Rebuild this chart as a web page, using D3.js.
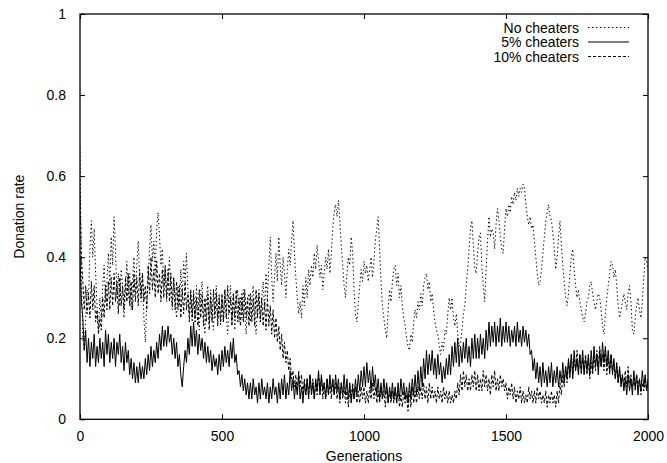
<!DOCTYPE html>
<html>
<head>
<meta charset="utf-8">
<script src="https://cdn.jsdelivr.net/npm/d3@7"></script>
<style>
  html, body { margin: 0; padding: 0; background: #fff; }
  svg { display: block; }
  text { font-family: "Liberation Sans", Arial, Helvetica, sans-serif; font-size: 14px; fill: #000; }
</style>
</head>
<body>
<svg id="chart" width="667" height="463"></svg>
<script>
const generationStep = 5;
const xTickValues = [0, 500, 1000, 1500, 2000];
const xTickLabels = ["0", "500", "1000", "1500", "2000"];
const yTickValues = [0, 0.2, 0.4, 0.6, 0.8, 1];
const yTickLabels = ["0", "0.2", "0.4", "0.6", "0.8", "1"];
const seriesNames = ["No cheaters", "5% cheaters", "10% cheaters"];

const noCheaters = [
0.67,0.35,0.20,0.17,0.25,0.32,0.30,0.42,0.49,0.40,0.47,0.36,0.28,0.22,0.30,0.25,0.33,0.38,0.29,0.34,
0.41,0.33,0.45,0.38,0.50,0.42,0.30,0.36,0.28,0.37,0.33,0.25,0.32,0.39,0.30,0.36,0.27,0.34,0.40,0.31,
0.38,0.44,0.35,0.29,0.36,0.25,0.19,0.28,0.34,0.42,0.48,0.39,0.44,0.36,0.47,0.51,0.45,0.38,0.42,0.33,
0.37,0.29,0.34,0.40,0.31,0.27,0.35,0.29,0.25,0.33,0.28,0.37,0.30,0.39,0.34,0.41,0.32,0.26,0.31,0.24,
0.32,0.25,0.33,0.27,0.22,0.31,0.34,0.25,0.21,0.30,0.33,0.24,0.32,0.26,0.22,0.30,0.33,0.25,0.31,0.23,
0.30,0.24,0.32,0.26,0.21,0.29,0.33,0.24,0.31,0.22,0.29,0.32,0.24,0.30,0.25,0.32,0.26,0.21,0.29,0.31,
0.24,0.30,0.33,0.25,0.21,0.28,0.32,0.24,0.30,0.34,0.27,0.36,0.30,0.38,0.45,0.35,0.29,0.35,0.41,0.34,
0.45,0.38,0.33,0.40,0.36,0.30,0.37,0.42,0.38,0.44,0.49,0.41,0.35,0.30,0.26,0.29,0.25,0.33,0.28,0.35,
0.30,0.37,0.33,0.38,0.35,0.41,0.37,0.43,0.39,0.35,0.38,0.32,0.36,0.40,0.37,0.42,0.36,0.41,0.47,0.51,
0.53,0.50,0.54,0.49,0.43,0.38,0.33,0.30,0.36,0.40,0.38,0.45,0.41,0.32,0.26,0.24,0.29,0.33,0.37,0.34,
0.39,0.36,0.38,0.34,0.37,0.40,0.35,0.39,0.44,0.47,0.50,0.42,0.34,0.28,0.25,0.22,0.20,0.27,0.32,0.29,
0.34,0.37,0.38,0.33,0.36,0.30,0.33,0.28,0.25,0.23,0.20,0.18,0.17,0.21,0.19,0.24,0.27,0.25,0.29,0.27,
0.31,0.28,0.33,0.35,0.36,0.32,0.34,0.29,0.31,0.27,0.24,0.22,0.21,0.18,0.16,0.19,0.17,0.22,0.21,0.26,
0.30,0.27,0.30,0.25,0.23,0.26,0.21,0.18,0.19,0.22,0.26,0.28,0.33,0.37,0.42,0.47,0.49,0.43,0.37,0.36,
0.41,0.45,0.46,0.38,0.33,0.29,0.37,0.44,0.50,0.45,0.47,0.46,0.42,0.48,0.52,0.49,0.45,0.42,0.41,0.47,
0.52,0.50,0.53,0.51,0.55,0.53,0.56,0.54,0.57,0.55,0.57,0.56,0.58,0.57,0.53,0.50,0.48,0.50,0.47,0.48,
0.44,0.40,0.36,0.33,0.34,0.37,0.41,0.45,0.49,0.51,0.53,0.50,0.49,0.46,0.42,0.37,0.40,0.45,0.49,0.43,
0.38,0.34,0.30,0.28,0.31,0.36,0.40,0.42,0.37,0.33,0.30,0.32,0.29,0.27,0.25,0.24,0.26,0.29,0.30,0.33,
0.34,0.31,0.29,0.27,0.29,0.31,0.30,0.27,0.23,0.21,0.26,0.30,0.33,0.36,0.39,0.38,0.35,0.37,0.33,0.28,
0.25,0.27,0.29,0.31,0.29,0.27,0.31,0.33,0.29,0.22,0.21,0.25,0.28,0.30,0.27,0.25,0.29,0.35,0.40,0.39,
0.37
];

const fivePercent = [
0.40,0.29,0.25,0.17,0.22,0.14,0.20,0.13,0.19,0.15,0.21,0.13,0.18,0.14,0.20,0.15,0.19,0.13,0.22,0.16,
0.21,0.14,0.19,0.15,0.20,0.13,0.19,0.16,0.21,0.14,0.18,0.12,0.19,0.14,0.17,0.11,0.15,0.10,0.14,0.09,
0.13,0.09,0.14,0.10,0.13,0.10,0.15,0.11,0.16,0.12,0.18,0.13,0.17,0.14,0.19,0.15,0.21,0.17,0.23,0.18,
0.22,0.18,0.23,0.19,0.21,0.16,0.20,0.15,0.19,0.13,0.16,0.11,0.08,0.13,0.17,0.14,0.20,0.16,0.23,0.18,
0.24,0.18,0.22,0.16,0.21,0.17,0.20,0.15,0.19,0.14,0.18,0.14,0.17,0.12,0.16,0.13,0.15,0.11,0.16,0.12,
0.17,0.13,0.18,0.14,0.17,0.13,0.19,0.15,0.20,0.14,0.16,0.11,0.12,0.08,0.11,0.07,0.10,0.06,0.09,0.05,
0.09,0.05,0.10,0.06,0.08,0.04,0.09,0.05,0.10,0.06,0.08,0.05,0.09,0.04,0.08,0.05,0.10,0.06,0.08,0.04,
0.09,0.05,0.10,0.06,0.11,0.05,0.09,0.06,0.12,0.07,0.10,0.05,0.09,0.06,0.11,0.05,0.08,0.04,0.09,0.06,
0.10,0.05,0.11,0.06,0.09,0.05,0.10,0.07,0.12,0.06,0.11,0.07,0.09,0.05,0.10,0.06,0.11,0.07,0.10,0.06,
0.11,0.07,0.10,0.05,0.09,0.06,0.11,0.06,0.10,0.05,0.09,0.04,0.08,0.05,0.10,0.06,0.11,0.07,0.12,0.08,
0.13,0.08,0.14,0.09,0.12,0.07,0.13,0.08,0.11,0.06,0.10,0.05,0.09,0.05,0.10,0.06,0.09,0.04,0.08,0.05,
0.09,0.05,0.08,0.04,0.09,0.05,0.10,0.06,0.09,0.05,0.08,0.04,0.09,0.05,0.10,0.06,0.11,0.06,0.12,0.07,
0.13,0.08,0.15,0.10,0.17,0.11,0.16,0.12,0.17,0.11,0.15,0.10,0.16,0.11,0.14,0.09,0.13,0.10,0.15,0.11,
0.16,0.11,0.18,0.13,0.19,0.14,0.20,0.13,0.18,0.14,0.19,0.15,0.20,0.14,0.18,0.13,0.20,0.15,0.21,0.15,
0.20,0.15,0.21,0.16,0.20,0.15,0.22,0.17,0.24,0.18,0.23,0.19,0.24,0.18,0.23,0.19,0.25,0.18,0.23,0.19,
0.24,0.19,0.23,0.18,0.22,0.19,0.23,0.18,0.24,0.19,0.22,0.18,0.23,0.19,0.22,0.18,0.21,0.16,0.17,0.12,
0.15,0.10,0.14,0.09,0.13,0.08,0.14,0.09,0.12,0.08,0.13,0.09,0.14,0.08,0.12,0.09,0.13,0.08,0.12,0.09,
0.14,0.09,0.13,0.10,0.15,0.11,0.16,0.10,0.17,0.12,0.15,0.11,0.16,0.12,0.17,0.11,0.15,0.12,0.16,0.11,
0.17,0.12,0.18,0.13,0.16,0.11,0.17,0.13,0.19,0.14,0.18,0.13,0.17,0.12,0.16,0.11,0.15,0.10,0.14,0.09,
0.13,0.08,0.11,0.07,0.10,0.06,0.11,0.07,0.10,0.06,0.12,0.08,0.11,0.06,0.10,0.07,0.12,0.08,0.11,0.07,
0.10
];

const tenPercent = [
0.55,0.40,0.34,0.27,0.33,0.26,0.31,0.25,0.34,0.27,0.33,0.24,0.27,0.21,0.25,0.22,0.30,0.25,0.33,0.27,
0.34,0.27,0.35,0.28,0.36,0.29,0.34,0.26,0.35,0.28,0.33,0.27,0.35,0.29,0.36,0.28,0.34,0.27,0.36,0.29,
0.35,0.28,0.37,0.30,0.36,0.29,0.33,0.27,0.38,0.31,0.40,0.32,0.37,0.30,0.39,0.31,0.36,0.29,0.37,0.30,
0.38,0.30,0.37,0.29,0.36,0.28,0.35,0.27,0.34,0.27,0.33,0.25,0.32,0.26,0.34,0.27,0.31,0.24,0.32,0.25,
0.31,0.24,0.30,0.23,0.32,0.25,0.31,0.23,0.30,0.24,0.31,0.22,0.30,0.24,0.32,0.25,0.31,0.23,0.30,0.24,
0.31,0.24,0.32,0.25,0.33,0.26,0.30,0.23,0.31,0.25,0.32,0.24,0.30,0.23,0.31,0.24,0.32,0.25,0.30,0.23,
0.31,0.24,0.30,0.23,0.32,0.25,0.31,0.24,0.30,0.23,0.29,0.22,0.30,0.23,0.28,0.21,0.27,0.20,0.25,0.19,
0.23,0.17,0.21,0.15,0.19,0.14,0.17,0.12,0.15,0.10,0.12,0.08,0.11,0.07,0.12,0.08,0.11,0.06,0.10,0.06,
0.10,0.06,0.11,0.07,0.10,0.05,0.09,0.06,0.11,0.07,0.10,0.05,0.09,0.05,0.10,0.06,0.09,0.05,0.10,0.06,
0.09,0.05,0.08,0.04,0.09,0.05,0.08,0.04,0.07,0.03,0.08,0.05,0.09,0.05,0.08,0.04,0.07,0.04,0.08,0.05,
0.08,0.04,0.07,0.04,0.08,0.05,0.09,0.05,0.08,0.04,0.07,0.04,0.08,0.05,0.07,0.03,0.08,0.04,0.07,0.04,
0.07,0.04,0.08,0.04,0.07,0.03,0.06,0.03,0.07,0.04,0.06,0.02,0.07,0.03,0.08,0.04,0.07,0.04,0.08,0.05,
0.08,0.05,0.09,0.05,0.08,0.04,0.09,0.05,0.08,0.05,0.07,0.04,0.08,0.05,0.07,0.04,0.08,0.05,0.07,0.04,
0.07,0.04,0.06,0.04,0.07,0.05,0.09,0.06,0.11,0.07,0.12,0.08,0.11,0.07,0.10,0.07,0.11,0.08,0.12,0.07,
0.11,0.07,0.10,0.07,0.12,0.08,0.11,0.07,0.10,0.06,0.11,0.08,0.12,0.07,0.10,0.07,0.11,0.08,0.10,0.07,
0.09,0.05,0.08,0.06,0.09,0.05,0.08,0.04,0.07,0.05,0.08,0.04,0.07,0.04,0.06,0.04,0.08,0.05,0.07,0.04,
0.07,0.04,0.08,0.05,0.07,0.04,0.06,0.04,0.07,0.03,0.06,0.04,0.07,0.04,0.06,0.03,0.07,0.04,0.09,0.06,
0.11,0.08,0.13,0.09,0.14,0.10,0.16,0.11,0.15,0.12,0.17,0.12,0.16,0.11,0.15,0.12,0.16,0.11,0.15,0.10,
0.14,0.11,0.16,0.12,0.17,0.13,0.18,0.13,0.16,0.12,0.17,0.11,0.15,0.11,0.16,0.12,0.14,0.10,0.13,0.09,
0.12,0.09,0.11,0.08,0.12,0.08,0.13,0.09,0.11,0.08,0.10,0.07,0.11,0.08,0.10,0.06,0.09,0.07,0.10,0.07,
0.09
];

// ---------- layout ----------
const svg = d3.select("#chart");
const margin = { left: 80, right: 19, top: 14, bottom: 43.7 };
const W = 667, H = 463;
const x = d3.scaleLinear().domain([0, 2000]).range([margin.left, W - margin.right]);
const y = d3.scaleLinear().domain([0, 1]).range([H - margin.bottom, margin.top]);

const series = [
  { name: seriesNames[0], values: noCheaters, dash: "1.4,2.6" },
  { name: seriesNames[1], values: fivePercent, dash: null },
  { name: seriesNames[2], values: tenPercent, dash: "3,2" }
];

const line = d3.line()
  .x((d, i) => x(i * generationStep))
  .y(d => y(d));

const plot = svg.append("g");
plot.append("defs").append("clipPath").attr("id", "clip")
  .append("rect")
  .attr("x", x(0)).attr("y", y(1))
  .attr("width", x(2000) - x(0)).attr("height", y(0) - y(1));

const lines = plot.append("g").attr("clip-path", "url(#clip)");
series.forEach(s => {
  lines.append("path")
    .attr("d", line(s.values))
    .attr("fill", "none")
    .attr("stroke", "#000")
    .attr("stroke-width", 1)
    .attr("stroke-dasharray", s.dash);
});

// ---------- axes (gnuplot style: inward ticks mirrored on all sides) ----------
const tickLen = 5;
const axBottom = d3.axisBottom(x).tickValues(xTickValues).tickSize(-tickLen).tickPadding(12)
  .tickFormat((d, i) => xTickLabels[i]);
const axTop = d3.axisTop(x).tickValues(xTickValues).tickSize(-tickLen).tickFormat("");
const axLeft = d3.axisLeft(y).tickValues(yTickValues).tickSize(-tickLen).tickPadding(14)
  .tickFormat((d, i) => yTickLabels[i]);
const axRight = d3.axisRight(y).tickValues(yTickValues).tickSize(-tickLen).tickFormat("");

function styleAxis(g) {
  g.select(".domain").remove();
  g.selectAll(".tick line").attr("stroke", "#000").attr("stroke-width", 1);
  g.selectAll(".tick text").attr("fill", "#000").attr("font-size", 14)
    .attr("font-family", "Liberation Sans, Arial, sans-serif");
}
svg.append("g").attr("transform", `translate(0,${y(0)})`).call(axBottom).call(styleAxis);
svg.append("g").attr("transform", `translate(0,${y(1)})`).call(axTop).call(styleAxis);
svg.append("g").attr("transform", `translate(${x(0)},0)`).call(axLeft).call(styleAxis);
svg.append("g").attr("transform", `translate(${x(2000)},0)`).call(axRight).call(styleAxis);

// border box
svg.append("rect")
  .attr("x", x(0)).attr("y", y(1))
  .attr("width", x(2000) - x(0)).attr("height", y(0) - y(1))
  .attr("fill", "none").attr("stroke", "#000").attr("stroke-width", 1.3);

// ---------- axis titles ----------
svg.append("text")
  .attr("x", (x(0) + x(2000)) / 2).attr("y", 461)
  .attr("text-anchor", "middle")
  .text("Generations");
svg.append("text")
  .attr("transform", `translate(24,${(y(0) + y(1)) / 2}) rotate(-90)`)
  .attr("text-anchor", "middle")
  .text("Donation rate");

// ---------- legend ----------
const legend = svg.append("g");
series.forEach((s, i) => {
  const ly = 27.5 + i * 14.5;
  legend.append("text")
    .attr("x", 579).attr("y", ly + 5)
    .attr("text-anchor", "end")
    .text(s.name);
  legend.append("line")
    .attr("x1", 588).attr("x2", 629)
    .attr("y1", ly).attr("y2", ly)
    .attr("stroke", "#000").attr("stroke-width", 1)
    .attr("stroke-dasharray", s.dash);
});
</script>
</body>
</html>
